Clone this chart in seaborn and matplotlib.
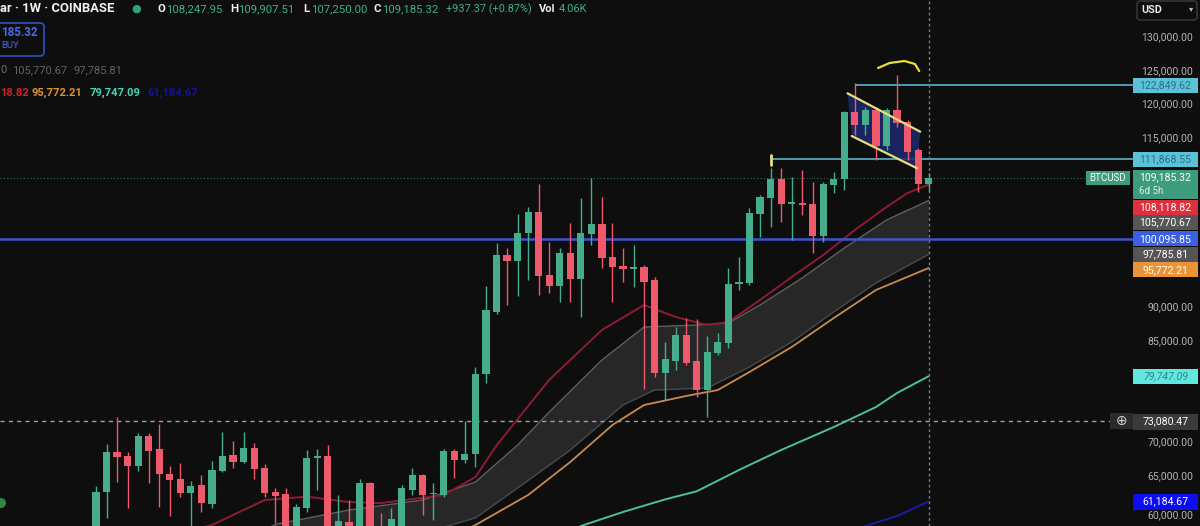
import numpy as np
import pandas as pd
import matplotlib
matplotlib.use("Agg")
import matplotlib.pyplot as plt
import seaborn as sns
from matplotlib import transforms, font_manager
from matplotlib.patches import Rectangle, Polygon, Circle, FancyBboxPatch

# ---------------- data (BTCUSD weekly) ----------------
opens = [51800, 62600, 68560, 67930, 66500, 70890, 68910, 65260, 64470, 62500,
         63580, 60820, 65700, 68080, 67090, 69160, 66100, 62640, 62250, 55800,
         60180, 67690, 67930, 56800, 58200, 57200, 63880, 57000, 54000, 57400,
         62940, 65110, 62300, 62150, 68670, 67340, 68220, 80000, 89300, 97700,
         96860, 100920, 104130, 94740, 93110, 98000, 94150, 100770, 102300, 97350,
         96120, 95630, 95970, 94000, 80180, 82050, 85850, 82050, 77700, 83140,
         84600, 93410, 93600, 103730, 106100, 108920, 105300, 105450, 105250, 100520,
         108080, 108920, 118930, 116950, 119180, 113850, 119180, 117350, 113260, 108247.95]
highs = [63480, 69700, 73750, 68560, 71380, 71290, 72670, 66440, 66840, 64220,
         65110, 67190, 71440, 70190, 71440, 69800, 66740, 63130, 63130, 60820,
         68810, 68910, 69550, 62150, 61410, 64470, 64000, 59480, 60180, 63630,
         66100, 65300, 63980, 68910, 68960, 73160, 81150, 93110, 99530, 98700,
         103780, 104770, 108220, 99670, 98700, 102490, 106100, 109060, 106250, 102400,
         98700, 99180, 96220, 94500, 84860, 87080, 88330, 88180, 85700, 86100,
         95730, 97450, 104620, 106600, 110550, 110550, 109300, 110300, 108560, 108500,
         110060, 119100, 123140, 119700, 119670, 119500, 124370, 117700, 113500, 109907.51]
lows = [50600, 58700, 64120, 60180, 65750, 63980, 60330, 59040, 61900, 56500,
        59690, 60180, 65600, 66100, 66930, 64470, 61800, 57950, 53500, 53800,
        59600, 62890, 56500, 49000, 56000, 57000, 56900, 52500, 53000, 57300,
        62150, 59190, 58440, 61900, 64620, 66840, 66350, 78800, 89000, 90300,
        91630, 94000, 91780, 92030, 90780, 90780, 88560, 99180, 95730, 90780,
        93750, 93000, 77900, 79680, 76220, 80670, 81410, 76620, 73750, 82900,
        83900, 92520, 93300, 100330, 101900, 102640, 99930, 103630, 98040, 99670,
        106840, 107330, 115480, 115500, 111780, 113260, 116710, 111780, 107080, 107250.00]
closes = [62640, 68560, 67740, 66500, 70890, 68710, 65260, 64370, 62400, 63480,
          60920, 65850, 67930, 67090, 69060, 65950, 62490, 62050, 55800, 60420,
          67690, 67930, 56800, 58300, 57200, 63880, 57000, 55000, 58590, 63130,
          65110, 62150, 62450, 68670, 67340, 68220, 80000, 89560, 97700, 96860,
          100920, 104130, 94590, 93110, 98000, 94150, 100920, 102300, 97200, 95970,
          95630, 95880, 93750, 80180, 82250, 85850, 81750, 77700, 83380, 84860,
          93410, 93750, 103880, 106250, 108920, 105250, 105550, 105150, 100520, 108220,
          108920, 118930, 116950, 119180, 113850, 119180, 117200, 113000, 108250, 109185.32]

# moving-average style indicator lines (candle index, price)
ema_idx = [8, 11, 16, 20, 24, 27, 33, 36, 38, 43, 48, 52, 55, 58, 60, 63, 66, 69, 72, 75, 77, 79]
ema_val = [56500, 57700, 61400, 61900, 61100, 60950, 62150, 64800, 69500, 79200, 86600, 90300,
           88520, 87330, 87780, 91040, 94440, 97700, 101410, 104820, 106890, 108118.82]
band_up_idx = [14, 17, 24, 31, 36, 40, 43, 48, 52, 57, 60, 63, 67, 71, 75, 79]
band_up_val = [55000, 57800, 59920, 61410, 64070, 69550, 74440, 82150, 87040, 87330, 87630,
               90300, 94300, 98740, 102890, 105770.67]
band_lo_idx = [14, 31, 36, 40, 45, 50, 53, 58, 62, 66, 70, 74, 79]
band_lo_val = [50000, 56500, 58740, 63180, 68810, 75480, 77700, 78000, 81110, 84810, 89260,
               93560, 97785.81]
orange_idx = [33, 36, 41, 45, 49, 52, 56, 59, 62, 66, 70, 74, 79]
orange_val = [55500, 57700, 62150, 67040, 72520, 75480, 76820, 77700, 80370, 84070, 88370,
              92520, 95772.21]
teal_idx = [44, 46, 50, 54, 57, 61, 65, 70, 74, 76, 79]
teal_val = [56000, 57550, 59630, 61500, 62700, 65850, 68810, 72220, 75180, 77260, 79747.09]
navy_idx = [71, 73, 76, 79]
navy_val = [56000, 57550, 59040, 61184.67]

price_ticks = [60000, 65000, 70000, 75000, 80000, 85000, 90000, 95000, 100000,
               105000, 110000, 115000, 120000, 125000, 130000]
support_blue = 100095.85
dashed_level = 73080.47
res_high, res_high_start = 122849.62, 72
res_low, res_low_start = 111868.55, 64
flag_upper_x, flag_upper_y = [71.3, 78.2], [121660, 115970]
flag_lower_x, flag_lower_y = [71.7, 77.9], [115330, 110550]
arc_x = [74.2, 75.3, 76.7, 77.7, 78.1]
arc_y = [125408, 126150, 126444, 126000, 124963]

# ---------------- style ----------------
sns.set_theme(style="dark")
names = {f.name for f in font_manager.fontManager.ttflist}
FONT = "Roboto" if "Roboto" in names else "DejaVu Sans"
plt.rcParams["font.family"] = [FONT, "DejaVu Sans"]

BG = "#0e0e0e"
GREEN = "#45ad8b"
RED = "#ee5a6b"
W, H = 1200, 526

fig = plt.figure(figsize=(W / 100, H / 100), dpi=100)
fig.patch.set_facecolor(BG)
AX_W = 1133
ax = fig.add_axes([0, 0, AX_W / W, 1])
ax.set_facecolor(BG)
x0_px, step = 96, 10.54
ax.set_xlim(-x0_px / step, (AX_W - x0_px) / step)
ax.set_ylim(57555, 135482)
ax.set_xticks([])
ax.set_yticks([])
for s in ax.spines.values():
    s.set_visible(False)
ax.grid(False)

df = pd.DataFrame(dict(i=np.arange(len(opens)), o=opens, h=highs, l=lows, c=closes))
up = df.c >= df.o
cols = np.where(up, GREEN, RED)

# gray band
poly = list(zip(band_up_idx, band_up_val)) + list(zip(band_lo_idx[::-1], band_lo_val[::-1]))
ax.add_patch(Polygon(poly, closed=True, facecolor="#272727", edgecolor="none", zorder=1))
sns.lineplot(x=band_up_idx, y=band_up_val, ax=ax, color="#5e5e5e", lw=1.0, zorder=2)
sns.lineplot(x=band_lo_idx, y=band_lo_val, ax=ax, color="#4a4a4a", lw=1.0, zorder=2)
sns.lineplot(x=orange_idx, y=orange_val, ax=ax, color="#c98a50", lw=1.3, zorder=2)
sns.lineplot(x=ema_idx, y=ema_val, ax=ax, color="#8e1c30", lw=1.4, zorder=2)
sns.lineplot(x=teal_idx, y=teal_val, ax=ax, color="#4cbf9c", lw=1.4, zorder=2)
sns.lineplot(x=navy_idx, y=navy_val, ax=ax, color="#1b1ba8", lw=1.4, zorder=2)

# horizontal levels
ax.axhline(support_blue, color="#3d52d4", lw=1.8, zorder=3)
ax.axhline(dashed_level, xmax=1110 / AX_W, color="#a0a0a0", lw=1.0, ls=(0, (3, 3)), zorder=3)
ax.axhline(closes[-1], xmax=1086 / AX_W, color="#2e6e58", lw=0.8, ls=(0, (1, 2)), zorder=3)
ax.hlines([res_high, res_low], [res_high_start, res_low_start], ax.get_xlim()[1],
          color="#58b6cc", lw=1.2, zorder=3)
ax.plot([res_low_start, res_low_start], [res_low - 800, res_low + 600], color="#e8e07a", lw=2, zorder=4)
ax.axvline(len(opens) - 1, color="#7a7a7a", lw=1.0, ls=(0, (2, 2)), zorder=3)

# flag channel
chan = [(flag_upper_x[0], flag_upper_y[0]), (flag_upper_x[1], flag_upper_y[1]),
        (flag_lower_x[1], flag_lower_y[1]), (flag_lower_x[0], flag_lower_y[0])]
ax.add_patch(Polygon(chan, closed=True, facecolor="#1d2a6e", alpha=0.85, edgecolor="none", zorder=3))
ax.plot(flag_upper_x, flag_upper_y, color="#e6df7c", lw=1.6, zorder=8)
ax.plot(flag_lower_x, flag_lower_y, color="#e6df7c", lw=1.6, zorder=8)
ax.plot(arc_x, arc_y, color="#e6df3a", lw=1.6, zorder=8, solid_capstyle="round")

# candles
ax.vlines(df.i, df.l, df.h, colors=cols, lw=1.0, zorder=5)
body = (df.c - df.o).abs().clip(lower=180)
ax.bar(df.i, body, bottom=np.minimum(df.o, df.c), width=0.68, color=cols, linewidth=0, zorder=6)

# ---------------- right price scale ----------------
fig.canvas.draw()
to_px = lambda p: H - ax.transData.transform((0, p))[1]   # pixel y from top
disp = transforms.IdentityTransform()


def box(x, ytop, w, h, fc, ec="none", z=20):
    fig.patches.append(Rectangle((x, H - ytop - h), w, h, transform=disp,
                                 facecolor=fc, edgecolor=ec, lw=1, zorder=z))


def txt(x, y, s, color, size=7.6, ha="left", weight="normal", style="normal", z=21):
    fig.text(x / W, 1 - y / H, s, color=color, fontsize=size, ha=ha, va="center",
             fontweight=weight, fontstyle=style, zorder=z)


labels = [  # text, price, bg, fg, height
    (f"{res_high:,.2f}", res_high, "#5cc2d6", "#2a6f93", 15),
    (f"{res_low:,.2f}", res_low, "#5cc2d6", "#2a6f93", 15),
    (f"{closes[-1]:,.2f}", closes[-1], "#3c9c7d", "#ffffff", 29),
    (f"{ema_val[-1]:,.2f}", ema_val[-1], "#df2f3c", "#ffffff", 15),
    (f"{band_up_val[-1]:,.2f}", band_up_val[-1], "#565656", "#ffffff", 15),
    (f"{support_blue:,.2f}", support_blue, "#3c60e4", "#ffffff", 15),
    (f"{band_lo_val[-1]:,.2f}", band_lo_val[-1], "#555555", "#ffffff", 15),
    (f"{orange_val[-1]:,.2f}", orange_val[-1], "#ea9436", "#ffffff", 15),
    (f"{teal_val[-1]:,.2f}", teal_val[-1], "#62e6e0", "#2b8a8a", 15),
    (f"{dashed_level:,.2f}", dashed_level, "#3b3b3b", "#ffffff", 16),
    (f"{navy_val[-1]:,.2f}", navy_val[-1], "#0c0cf5", "#ffffff", 16),
]
spans = []
prev_bottom = -1e9
for s, p, fc, tc, hh in labels:
    top = max(to_px(p) - 7.5, prev_bottom + 0.5)
    box(1133, top, 65, hh, fc)
    txt(1165.5, top + 7.5, s, tc, size=7.6, ha="center",
        style="italic" if tc == "#2b8a8a" else "normal")
    if hh > 20:
        txt(1139, top + 21, "6d 5h", "#d8efe6", size=7.0)
    spans.append((top, top + hh))
    prev_bottom = top + hh

# axis tick labels, only where the price tags leave them visible
for t in price_ticks:
    yp = to_px(t)
    hidden = any(a - 6 < yp < b + 2 for a, b in spans)
    if 0 < yp < H and (not hidden or t == price_ticks[0]):
        txt(1193, yp + (6 if t == price_ticks[0] else 0), f"{t:,.2f}", "#b4b4b4",
            size=7.6, ha="right", z=5)

# BTCUSD tag and crosshair plus icon
yc = to_px(closes[-1])
box(1086, yc - 7, 44, 14, "#3c9c7d")
txt(1108, yc, "BTCUSD", "#ffffff", size=7.0, ha="center")
yd = to_px(dashed_level)
box(1110, yd - 8, 23, 16, "#2b2b2b")
txt(1121.5, yd, "⊕", "#d0d0d0", size=10, ha="center")

# USD selector
fig.patches.append(FancyBboxPatch((1137, H - 20), 60, 19, boxstyle="round,pad=0,rounding_size=3",
                                  transform=disp, facecolor=BG, edgecolor="#3c3c3c", lw=1, zorder=20))
txt(1141, 10, "USD", "#e8e8e8", size=7.8, weight="bold")
txt(1191, 9, "▾", "#bbbbbb", size=6, ha="center")

# ---------------- header / legend texts ----------------
txt(0, 9, "ar · 1W · COINBASE", "#f0f0f0", size=9.4, weight="bold")
txt(131, 9, "●", "#2fa37f", size=8)
hdr = [(158, "O", "108,247.95"), (230, "H", "109,907.51"), (303, "L", "107,250.00"),
       (374, "C", "109,185.32")]
for x, k, v in hdr:
    txt(x, 9, k, "#eeeeee", size=8.2, weight="bold")
    txt(x + 8, 9, v, "#3faf8c", size=8.2)
txt(446, 9, "+937.37 (+0.87%)", "#3faf8c", size=7.8)
txt(539, 9, "Vol", "#eeeeee", size=8.0, weight="bold")
txt(559, 9, "4.06K", "#3faf8c", size=8.0)

fig.patches.append(FancyBboxPatch((-4, H - 56), 48, 33, boxstyle="round,pad=0,rounding_size=4",
                                  transform=disp, facecolor=BG, edgecolor="#3050c8", lw=1.2, zorder=20))
txt(1, 32, "185.32", "#4a68f0", size=8.4, weight="bold")
txt(1, 46, "BUY", "#4a68f0", size=6.8)

txt(0, 70, "0", "#6e6e6e", size=8.0)
txt(12, 70, "105,770.67", "#626262", size=8.0)
txt(74, 70, "97,785.81", "#626262", size=8.0)
txt(0, 93, "18.82", "#cf2131", size=8.0, weight="bold")
txt(32, 93, "95,772.21", "#e2922e", size=8.0, weight="bold")
txt(90, 93, "79,747.09", "#46d8b6", size=8.0, weight="bold")
txt(147, 93, "61,184.67", "#12129e", size=8.0, weight="bold")

fig.patches.append(Circle((1, 23), 5, transform=disp, facecolor="#2d8a3e", edgecolor="none", zorder=20))

fig.savefig("out.png", dpi=100, facecolor=BG)
